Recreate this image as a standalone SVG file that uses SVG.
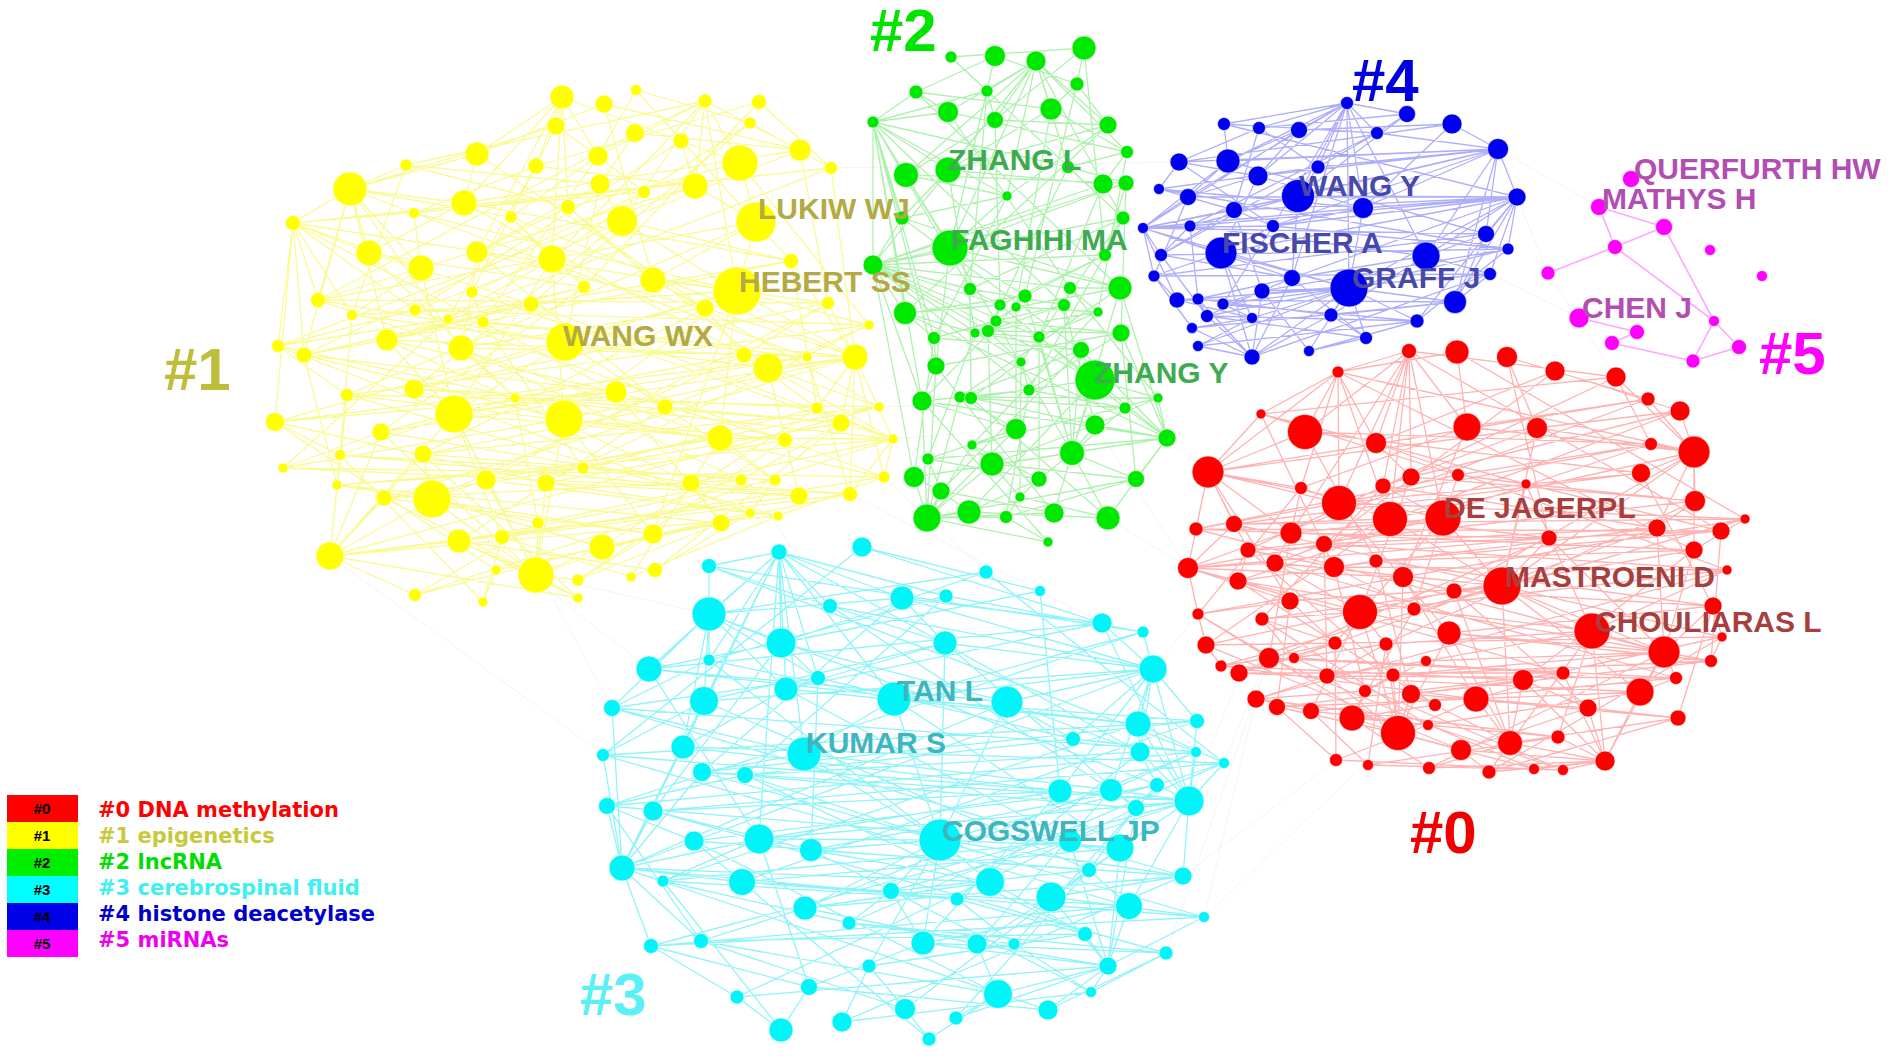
<svg xmlns="http://www.w3.org/2000/svg" width="1902" height="1056" viewBox="0 0 1902 1056">
<style>
.e{fill:none;stroke-width:1.3;stroke-linecap:round}
.ey{stroke:#f2f200;stroke-opacity:.42}
.eg{stroke:#00d400;stroke-opacity:.32}
.eb{stroke:#0000ee;stroke-opacity:.32}
.er{stroke:#ff0000;stroke-opacity:.3}
.ec{stroke:#00e6ee;stroke-opacity:.44}
.em{stroke:#ff00ff;stroke-opacity:.35;stroke-width:1.6}
.ex{stroke:#c8c8c8;stroke-opacity:.25;stroke-width:.8}
.n circle{stroke:#ffffff;stroke-width:.8;stroke-opacity:.7}
.ny circle{fill:#ffff00}
.ng circle{fill:#00e800}
.nb circle{fill:#0000f0}
.nr circle{fill:#ff0000}
.nc circle{fill:#00f4f8}
.nm circle{fill:#ff00ff}
.lbl{font-family:"Liberation Sans",Arial,sans-serif;font-weight:bold;font-size:30px}
.cl{font-family:"Liberation Sans",Arial,sans-serif;font-weight:bold;font-size:60px}
.lg{font-family:"DejaVu Sans",Verdana,sans-serif;font-weight:bold;font-size:21px}
.lb{font-family:"Liberation Sans",Arial,sans-serif;font-weight:bold;font-size:15px;fill:#000;text-anchor:middle}
</style>
<rect width="1902" height="1056" fill="#ffffff"/>
<g id="connectors">
<path class="e ex" d="M330 556L600 752M432 499L649 669M536 575L709 614M454 414L612 708M720 438L830 606M884 477L986 572M850 494L1102 623M1095 425L1188 568M1167 438L1208 472M1153 669L1198 614M1224 763L1290 601M1189 801L1262 619M1204 917L1398 733M1183 876L1336 760M869 325L1143 228M831 168L1179 162M1517 197L1548 273M1490 274L1579 318M1498 149L1599 207M1616 377L1548 273M1108 518L1188 568M893 439L1016 429M879 407L1158 398M1204 917L1256 699M1166 953L1269 658M663 881L759 839"/>
<path class="e ey" d="M562 97L681 141L740 163L568 207L477 252L472 292L483 322L304 355L616 392L275 422L340 455L775 480L750 513L602 547L415 595M636 90L750 123L831 168L414 213L421 268L318 300L828 303L744 355L515 398L381 432L283 468L884 477L778 516L330 556L578 598M604 104L477 154L350 189L511 217L552 259L415 310L869 325L768 368L665 407L841 423L583 468L337 485L721 523L496 570L483 602M705 101L406 165L600 184L622 221L791 261L531 304L387 340L807 357L454 414L720 438L486 480L432 499L538 523L536 575M759 102L536 166L695 186L756 222L653 280L705 308L461 348L855 357L564 419L785 440L546 483L799 496L459 541L655 570M556 126L598 156L644 192L293 223L737 291L352 315L565 342L414 389L817 408L893 439L691 483L850 494L502 537L631 577M635 133L800 150L464 203L369 253L584 287L448 319L278 346L347 395L879 407L423 454L741 480L384 498L653 534L578 580
M562 97L552 259L564 419L653 534M636 90L791 261L817 408L602 547M604 104L653 280L879 407L330 556M705 101L737 291L275 422L496 570M759 102L584 287L381 432L536 575M556 126L472 292L841 423L655 570M635 133L318 300L720 438L631 577M681 141L415 310L785 440L578 580M750 123L531 304L893 439L415 595M477 154L705 308L423 454L578 598M406 165L352 315L340 455L483 602M536 166L448 319L283 468M598 156L483 322L583 468M800 150L828 303L486 480M740 163L869 325L546 483M831 168L387 340L691 483M350 189L461 348L741 480M600 184L565 342L775 480M695 186L278 346L884 477M644 192L304 355L337 485M464 203L744 355L432 499M568 207L768 368L799 496M414 213L807 357L850 494M511 217L855 357L384 498M622 221L414 389L750 513M756 222L347 395L778 516M293 223L616 392L721 523M369 253L515 398L538 523M477 252L665 407L459 541M421 268L454 414L502 537
M562 97L536 166L414 213L737 291L869 325L347 395L720 438L775 480L459 541L578 598M636 90L598 156L511 217L584 287L387 340L616 392L785 440L884 477L502 537L483 602M604 104L800 150L622 221L472 292L461 348L515 398L893 439L337 485L653 534M705 101L740 163L756 222L318 300L565 342L665 407L423 454L432 499L602 547M759 102L831 168L293 223L415 310L278 346L454 414L340 455L799 496L330 556M556 126L350 189L369 253L531 304L304 355L564 419L283 468L850 494L496 570M635 133L600 184L477 252L705 308L744 355L817 408L583 468L384 498L536 575M681 141L695 186L421 268L352 315L768 368L879 407L486 480L750 513L655 570M750 123L644 192L552 259L448 319L807 357L275 422L546 483L778 516L631 577M477 154L464 203L791 261L483 322L855 357L381 432L691 483L721 523L578 580M406 165L568 207L653 280L828 303L414 389L841 423L741 480L538 523L415 595
M477 154L350 189L369 253M350 189L421 268M350 189L464 203M350 189L387 340M350 189L318 300M350 189L304 355M350 189L406 165M350 189L414 213M350 189L293 223L369 253M293 223L318 300M293 223L278 346M293 223L304 355M293 223L275 422M293 223L352 315M293 223L421 268M432 499L330 556L384 498M330 556L381 432M330 556L423 454M330 556L459 541M330 556L454 414M330 556L347 395M330 556L340 455M330 556L415 595M459 541L536 575L602 547M536 575L564 419M536 575L486 480M536 575L546 483M536 575L454 414M536 575L432 499M536 575L578 598M536 575L578 580M536 575L653 534M737 291L855 357L768 368M855 357L841 423M855 357L817 408M855 357L828 303M855 357L705 308M855 357L850 494M855 357L884 477M855 357L831 168M855 357L791 261M740 163L705 101L695 186M705 101L622 221M705 101L598 156M705 101L635 133M705 101L800 150M705 101L737 291M705 101L552 259M477 154L562 97L536 166M562 97L598 156M562 97L464 203M562 97L568 207M562 97L477 252M562 97L552 259M562 97L556 126M850 494L893 439L841 423M893 439L768 368M893 439L720 438M893 439L884 477M893 439L855 357M737 291L622 221M737 291L565 342M737 291L564 419M737 291L756 222M737 291L720 438M737 291L653 534M454 414L565 342M454 414L387 340M454 414L552 259M454 414L616 392M454 414L421 268"/>
<path class="e eg" d="M951 57L987 91L873 122L1068 167L1123 218L970 289L1064 305L988 331L1021 362L971 398L1095 425L992 464L1020 497L1108 518M995 56L1077 84L1108 125L1007 196L950 248L1025 296L905 313L934 338L936 366L922 401L1167 438L914 477L927 518L1048 542M1036 61L948 112L1127 152L1103 184L873 265L1070 288L1098 312L1039 337L1095 380L1158 398L972 445L1039 479L969 512M1084 48L995 120L906 175L1126 183L1105 255L1000 305L996 321L1121 333L1029 390L1125 408L1072 453L1136 479L1006 517M916 92L1051 109L948 170L902 218L1120 288L1016 307L975 333L1081 350L960 397L1016 429L928 459L941 491L1054 513
M951 57L1123 218L1021 362L1020 497M995 56L950 248L936 366L927 518M1036 61L873 265L1095 380L969 512M1084 48L1105 255L1029 390L1006 517M916 92L1120 288L960 397L1054 513M987 91L970 289L971 398L1108 518M1077 84L1025 296L922 401L1048 542M948 112L1070 288L1158 398M995 120L1000 305L1125 408M1051 109L1016 307L1016 429M873 122L1064 305L1095 425M1108 125L905 313L1167 438M1127 152L1098 312L972 445M906 175L996 321L1072 453M948 170L975 333L928 459M1068 167L988 331L992 464M1007 196L934 338L914 477M1103 184L1039 337L1039 479M1126 183L1121 333L1136 479M902 218L1081 350L941 491M1084 48L1077 84
M951 57L1084 48L1077 84L1051 109L1127 152L1068 167L1126 183L950 248L1120 288L1070 288L1064 305L996 321L934 338L1081 350L1095 380L971 398L1125 408L1167 438L928 459L1039 479L1020 497L1006 517L1048 542M995 56L916 92L948 112L873 122L906 175L1007 196L902 218L873 265L970 289L1000 305L905 313L975 333L1039 337L1021 362L1029 390L922 401L1016 429L972 445L992 464L1136 479L927 518L1054 513M1036 61L987 91L995 120L1108 125L948 170L1103 184L1123 218L1105 255L1025 296L1016 307L1098 312L988 331L1121 333L936 366L960 397L1158 398L1095 425L1072 453L914 477L941 491L969 512L1108 518
M906 175L873 122L948 170M873 122L950 248M873 122L905 313M873 122L1007 196M873 122L902 218M873 122L873 265M873 122L936 366M873 122L970 289M873 122L948 112M873 122L916 92M873 122L934 338M873 122L922 401M948 112L1036 61L995 120M1036 61L1051 109M1036 61L1108 125M1036 61L948 170M1036 61L1068 167M1036 61L1007 196M1036 61L1103 184M1036 61L950 248M1036 61L906 175M1036 61L1127 152M1036 61L987 91M950 248L873 265L970 289M873 265L1000 305M873 265L988 331M873 265L1039 337M873 265L1021 362M873 265L1105 255M873 265L1123 218M873 265L1126 183M873 265L1029 390M873 265L905 313M873 265L922 401M873 265L914 477M1095 380L1072 453L1095 425M1072 453L1081 350M1072 453L1039 337M1072 453L1039 479M1072 453L1054 513M1072 453L1108 518M1072 453L1025 296M1072 453L1064 305M1072 453L1125 408M1072 453L1120 288M914 477L927 518L941 491M927 518L969 512M927 518L1006 517M927 518L992 464M927 518L972 445M927 518L960 397M927 518L922 401M927 518L1016 429M1095 380L1167 438L1125 408M1167 438L1095 425M1167 438L1136 479M1167 438L1108 518M1167 438L1121 333M1167 438L1158 398M1167 438L1120 288M1167 438L1081 350"/>
<path class="e eb" d="M1347 103L1299 130L1258 176L1363 208L1273 226L1508 249L1262 291L1207 316L1366 338M1407 114L1377 133L1498 149L1517 197L1486 234L1154 276L1177 300L1252 318L1198 346M1452 124L1179 162L1159 189L1234 210L1161 255L1292 278L1198 299L1331 315L1252 357M1224 124L1228 161L1188 197L1143 228L1221 253L1349 288L1223 304L1417 321L1309 351M1259 128L1318 167L1298 196L1190 226L1426 256L1490 274L1455 302L1192 328
M1347 103L1188 197L1154 276L1192 328M1407 114L1298 196L1292 278L1366 338M1452 124L1363 208L1349 288L1198 346M1224 124L1517 197L1490 274L1252 357M1259 128L1234 210L1262 291L1309 351M1299 130L1143 228L1177 300M1377 133L1190 226L1198 299M1179 162L1273 226L1223 304M1228 161L1486 234L1455 302M1318 167L1161 255L1207 316M1258 176L1221 253L1252 318M1498 149L1426 256L1331 315M1159 189L1508 249L1417 321
M1347 103L1224 124L1377 133L1318 167L1159 189L1363 208L1143 228L1486 234L1426 256L1292 278L1262 291L1223 304L1252 318L1192 328L1252 357M1407 114L1259 128L1179 162L1258 176L1188 197L1517 197L1190 226L1161 255L1508 249L1349 288L1177 300L1455 302L1331 315L1366 338L1309 351M1452 124L1299 130L1228 161L1498 149L1298 196L1234 210L1273 226L1221 253L1154 276L1490 274L1198 299L1207 316L1417 321L1198 346
M1228 161L1347 103L1258 176M1347 103L1298 196M1347 103L1363 208M1347 103L1273 226M1347 103L1318 167M1347 103L1292 278M1347 103L1349 288M1347 103L1426 256M1347 103L1224 124M1347 103L1259 128M1347 103L1299 130M1347 103L1377 133M1347 103L1407 114M1228 161L1498 149L1298 196M1498 149L1363 208M1498 149L1258 176M1498 149L1318 167M1498 149L1426 256M1498 149L1486 234M1498 149L1455 302M1498 149L1273 226M1498 149L1234 210M1498 149L1179 162M1498 149L1452 124M1498 149L1517 197M1298 196L1517 197L1363 208M1517 197L1221 253M1517 197L1426 256M1517 197L1486 234M1517 197L1349 288M1517 197L1292 278M1517 197L1234 210M1517 197L1273 226M1517 197L1455 302M1517 197L1417 321M1517 197L1508 249M1221 253L1143 228L1298 196M1143 228L1234 210M1143 228L1273 226M1143 228L1228 161M1143 228L1188 197M1143 228L1190 226M1143 228L1292 278M1143 228L1349 288M1143 228L1161 255M1143 228L1154 276M1252 357L1349 288L1309 351M1349 288L1366 338M1349 288L1331 315M1349 288L1417 321M1349 288L1262 291M1349 288L1252 318M1349 288L1207 316M1349 288L1177 300M1349 288L1223 304M1349 288L1455 302M1207 316L1252 357L1192 328M1252 357L1198 346M1252 357L1198 299M1252 357L1221 253M1252 357L1262 291M1252 357L1292 278"/>
<path class="e er" d="M1409 351L1305 432L1641 473L1234 524L1188 568L1290 601L1335 643L1239 673L1640 692L1428 725L1563 770M1457 352L1467 427L1301 488L1291 533L1275 563L1360 612L1386 644L1327 676L1256 699L1558 737L1605 761M1507 357L1537 428L1383 486L1657 528L1334 567L1414 609L1664 652L1393 675L1435 705L1510 743M1555 371L1376 443L1526 484L1721 531L1376 561L1713 606L1722 637L1523 680L1588 708L1461 750M1616 377L1651 444L1339 503L1745 519L1403 577L1198 614L1269 658L1563 673L1277 707L1336 760M1338 372L1694 452L1390 519L1549 538L1502 586L1262 619L1294 658L1676 678L1311 711L1368 765M1648 399L1208 472L1443 518L1324 544L1727 570L1592 631L1426 661L1365 691L1352 718L1429 768M1680 411L1411 477L1695 501L1248 550L1238 581L1449 633L1711 661L1411 694L1678 718L1489 772M1261 414L1458 475L1196 529L1694 550L1454 591L1206 645L1221 666L1476 699L1398 733L1534 769
M1409 351L1721 531L1711 661M1457 352L1745 519L1221 666M1507 357L1549 538L1239 673M1555 371L1324 544L1327 676M1616 377L1248 550L1393 675M1338 372L1694 550L1523 680M1648 399L1188 568L1563 673M1680 411L1275 563L1676 678M1261 414L1334 567L1365 691M1305 432L1376 561L1411 694M1467 427L1403 577L1476 699M1537 428L1502 586L1640 692M1376 443L1727 570L1256 699M1651 444L1238 581L1435 705M1694 452L1454 591L1588 708M1208 472L1290 601L1277 707M1411 477L1360 612L1311 711M1458 475L1414 609L1352 718M1641 473L1713 606L1678 718M1301 488L1198 614L1398 733M1383 486L1262 619L1428 725M1526 484L1592 631L1558 737M1339 503L1449 633L1510 743M1390 519L1206 645L1461 750M1443 518L1335 643L1336 760M1695 501L1386 644L1368 765M1196 529L1664 652L1429 768M1234 524L1722 637L1489 772M1291 533L1269 658L1534 769M1657 528L1294 658L1563 770
M1409 351L1616 377L1261 414L1376 443L1411 477L1383 486L1443 518L1291 533L1549 538L1188 568L1403 577L1454 591L1713 606L1449 633L1664 652L1426 661L1327 676L1676 678L1640 692L1277 707L1398 733L1461 750L1489 772M1457 352L1338 372L1305 432L1651 444L1458 475L1526 484L1695 501L1657 528L1324 544L1275 563L1502 586L1290 601L1198 614L1206 645L1722 637L1711 661L1393 675L1365 691L1256 699L1311 711L1428 725L1336 760L1534 769M1507 357L1648 399L1467 427L1694 452L1641 473L1339 503L1196 529L1721 531L1248 550L1334 567L1727 570L1360 612L1262 619L1335 643L1269 658L1221 666L1523 680L1411 694L1435 705L1352 718L1558 737L1368 765L1563 770M1555 371L1680 411L1537 428L1208 472L1301 488L1390 519L1234 524L1745 519L1694 550L1376 561L1238 581L1414 609L1592 631L1386 644L1294 658L1239 673L1563 673L1476 699L1588 708L1678 718L1510 743L1429 768L1605 761
M1305 432L1409 351L1376 443M1409 351L1411 477M1409 351L1339 503M1409 351L1390 519M1409 351L1443 518M1409 351L1467 427M1409 351L1383 486M1409 351L1291 533M1409 351L1338 372M1510 743L1605 761L1558 737M1605 761L1588 708M1605 761L1640 692M1605 761L1523 680M1605 761L1592 631M1605 761L1664 652M1605 761L1461 750M1605 761L1563 673M1605 761L1489 772M1605 761L1534 769M1605 761L1563 770M1352 718L1398 733L1411 694M1398 733L1393 675M1398 733L1386 644M1398 733L1360 612M1398 733L1449 633M1398 733L1403 577M1398 733L1476 699M1398 733L1461 750M1398 733L1327 676M1261 414L1208 472L1305 432M1208 472L1301 488M1208 472L1234 524M1208 472L1291 533M1208 472L1196 529M1208 472L1188 568M1208 472L1248 550M1208 472L1339 503M1537 428L1694 452L1641 473M1694 452L1695 501M1694 452L1657 528M1694 452L1694 550M1694 452L1651 444M1694 452L1680 411M1694 452L1648 399M1694 452L1616 377M1694 452L1502 586M1476 699L1510 743L1592 631M1510 743L1502 586M1510 743L1523 680M1510 743L1449 633M1510 743L1454 591M1510 743L1489 772M1510 743L1429 768M1592 631L1664 652L1713 606M1664 652L1694 550M1664 652L1711 661M1664 652L1676 678M1664 652L1640 692M1664 652L1502 586M1664 652L1549 538M1664 652L1657 528M1305 432L1338 372L1376 443M1338 372L1339 503M1338 372L1208 472M1338 372L1261 414M1338 372L1390 519M1338 372L1457 352M1338 372L1301 488M1275 563L1188 568L1238 581M1188 568L1198 614M1188 568L1290 601M1188 568L1324 544M1443 518L1502 586L1390 519M1502 586L1549 538M1502 586L1454 591M1502 586L1414 609M1502 586L1592 631M1502 586L1526 484"/>
<path class="e ec" d="M779 552L709 614L818 678L1073 739L745 775L940 840L1183 876L805 908L701 941L905 1009M862 547L1102 623L786 689L683 747L1060 791L759 839L663 881L849 923L1166 953L1048 1010M709 566L1143 632L894 699L804 754L1111 790L694 841L742 882L1204 917L1108 966L956 1018M986 572L781 643L1007 702L1140 752L1157 785L811 850L990 882L1085 934L869 966L842 1022M902 598L945 643L704 701L603 755L1189 801L1070 841L891 891L923 943L809 987L781 1030M946 596L709 660L612 708L1196 752L607 806L1120 848L1051 897L977 944L998 994L929 1039M1040 591L649 669L1138 724L1224 763L653 811L622 868L957 899L1014 944L1091 992M830 606L1153 669L1197 721L702 772L1136 808L1089 870L1129 906L651 946L737 997
M779 552L1140 752L957 899M862 547L603 755L1129 906M709 566L1196 752L805 908M986 572L1224 763L849 923M902 598L702 772L1204 917M946 596L745 775L1085 934M1040 591L1060 791L923 943M830 606L1111 790L977 944M709 614L1157 785L1014 944M1102 623L1189 801L651 946M1143 632L607 806L701 941M781 643L653 811L1166 953M945 643L1136 808L1108 966M709 660L940 840L869 966M649 669L759 839L809 987M1153 669L694 841L998 994M818 678L811 850L1091 992M786 689L1070 841L737 997M894 699L1120 848L905 1009M1007 702L622 868L1048 1010M704 701L1089 870L956 1018M612 708L1183 876L842 1022M1138 724L663 881L781 1030M1197 721L742 882L929 1039
M779 552L946 596L1143 632L1153 669L704 701L683 747L1224 763L1157 785L940 840L1120 848L742 882L1129 906L923 943L1166 953L1091 992L842 1022M862 547L1040 591L781 643L818 678L612 708L804 754L702 772L1189 801L759 839L622 868L990 882L805 908L977 944L1108 966L737 997L781 1030M709 566L830 606L945 643L786 689L1138 724L1140 752L745 775L607 806L694 841L1089 870L891 891L849 923L1014 944L869 966L905 1009L929 1039M986 572L709 614L709 660L894 699L1197 721L603 755L1060 791L653 811L811 850L1183 876L1051 897L1204 917L651 946L809 987L1048 1010M902 598L1102 623L649 669L1007 702L1073 739L1196 752L1111 790L1136 808L1070 841L663 881L957 899L1085 934L701 941L998 994L956 1018
M709 614L779 552L781 643M779 552L786 689M779 552L704 701M779 552L804 754M779 552L894 699M779 552L902 598M779 552L830 606M779 552L709 566M779 552L649 669M779 552L709 660M779 552L818 678M779 552L683 747M779 552L759 839M1102 623L1153 669L945 643M1153 669L894 699M1153 669L1007 702M1153 669L1138 724M1153 669L1073 739M1153 669L1140 752M1153 669L1060 791M1153 669L1111 790M1153 669L1189 801M1153 669L902 598M1153 669L1143 632M1153 669L1197 721M612 708L622 868L683 747M622 868L702 772M622 868L607 806M622 868L653 811M622 868L694 841M622 868L663 881M622 868L742 882M622 868L651 946M622 868L701 941M622 868L759 839M622 868L603 755M622 868L704 701M1140 752L1189 801L1157 785M1189 801L1136 808M1189 801L1120 848M1189 801L1183 876M1189 801L1129 906M1189 801L1196 752M1189 801L1224 763M1189 801L1197 721M1189 801L1111 790M1189 801L1138 724M1051 897L1108 966L1129 906M1108 966L1085 934M1108 966L977 944M1108 966L998 994M1108 966L1048 1010M1108 966L1091 992M1108 966L1070 841M1108 966L1120 848M1108 966L923 943M894 699L940 840L804 754M940 840L811 850M940 840L891 891M940 840L805 908M940 840L990 882M940 840L923 943M940 840L1007 702M940 840L945 643M940 840L759 839M709 566L709 614L781 643M709 614L649 669M709 614L704 701M709 614L709 660M709 614L786 689M709 614L612 708M709 614L683 747M709 614L902 598"/>
<path class="e em" d="M1599 207L1664 227M1599 207L1615 247L1664 227M1615 247L1548 273M1615 247L1714 321L1664 227M1714 321L1739 347L1693 361L1714 321M1693 361L1612 343L1637 332L1579 318"/>
</g>
<g id="cluster1-nodes" class="n ny">
<circle id="y1" cx="562" cy="97" r="12"/><circle id="y2" cx="636" cy="90" r="5.5"/><circle id="y3" cx="604" cy="104" r="9"/><circle id="y4" cx="705" cy="101" r="7"/><circle id="y5" cx="759" cy="102" r="7.5"/><circle id="y6" cx="556" cy="126" r="9"/><circle id="y7" cx="635" cy="133" r="9.5"/><circle id="y8" cx="681" cy="141" r="8"/><circle id="y9" cx="750" cy="123" r="6"/><circle id="y10" cx="477" cy="154" r="12"/><circle id="y11" cx="406" cy="165" r="6"/><circle id="y12" cx="536" cy="166" r="8"/><circle id="y13" cx="598" cy="156" r="10"/><circle id="y14" cx="800" cy="150" r="11"/><circle id="y15" cx="740" cy="163" r="18"/><circle id="y16" cx="831" cy="168" r="6.5"/><circle id="y17" cx="350" cy="189" r="17"/><circle id="y18" cx="600" cy="184" r="10"/><circle id="y19" cx="695" cy="186" r="13"/><circle id="y20" cx="644" cy="192" r="6.5"/><circle id="y21" cx="464" cy="203" r="13"/><circle id="y22" cx="568" cy="207" r="7.5"/><circle id="y23" cx="414" cy="213" r="5.5"/><circle id="y24" cx="511" cy="217" r="6"/><circle id="y25" cx="622" cy="221" r="15.5"/><circle id="y26" cx="756" cy="222" r="20"/><circle id="y27" cx="293" cy="223" r="7.5"/><circle id="y28" cx="369" cy="253" r="13"/><circle id="y29" cx="477" cy="252" r="11"/><circle id="y30" cx="421" cy="268" r="13"/><circle id="y31" cx="552" cy="259" r="14"/><circle id="y32" cx="791" cy="261" r="7.5"/><circle id="y33" cx="653" cy="280" r="13"/><circle id="y34" cx="737" cy="291" r="24"/><circle id="y35" cx="584" cy="287" r="6.5"/><circle id="y36" cx="472" cy="292" r="6"/><circle id="y37" cx="318" cy="300" r="7.5"/><circle id="y38" cx="415" cy="310" r="6"/><circle id="y39" cx="531" cy="304" r="8"/><circle id="y40" cx="705" cy="308" r="9"/><circle id="y41" cx="352" cy="315" r="5.5"/><circle id="y42" cx="448" cy="319" r="5"/><circle id="y43" cx="483" cy="322" r="6"/><circle id="y44" cx="828" cy="303" r="6.5"/><circle id="y45" cx="869" cy="325" r="5"/><circle id="y46" cx="387" cy="340" r="11"/><circle id="y47" cx="461" cy="348" r="13"/><circle id="y48" cx="565" cy="342" r="19"/><circle id="y49" cx="278" cy="346" r="6.5"/><circle id="y50" cx="304" cy="355" r="8"/><circle id="y51" cx="744" cy="355" r="8"/><circle id="y52" cx="768" cy="368" r="15"/><circle id="y53" cx="807" cy="357" r="5"/><circle id="y54" cx="855" cy="357" r="13"/><circle id="y55" cx="414" cy="389" r="10"/><circle id="y56" cx="347" cy="395" r="6.5"/><circle id="y57" cx="616" cy="392" r="11"/><circle id="y58" cx="515" cy="398" r="5"/><circle id="y59" cx="665" cy="407" r="8"/><circle id="y60" cx="454" cy="414" r="19"/><circle id="y61" cx="564" cy="419" r="19"/><circle id="y62" cx="817" cy="408" r="6"/><circle id="y63" cx="879" cy="407" r="5"/><circle id="y64" cx="275" cy="422" r="9.5"/><circle id="y65" cx="381" cy="432" r="9"/><circle id="y66" cx="841" cy="423" r="9"/><circle id="y67" cx="720" cy="438" r="13"/><circle id="y68" cx="785" cy="440" r="7.5"/><circle id="y69" cx="893" cy="439" r="5"/><circle id="y70" cx="423" cy="454" r="9"/><circle id="y71" cx="340" cy="455" r="5.5"/><circle id="y72" cx="283" cy="468" r="5"/><circle id="y73" cx="583" cy="468" r="6"/><circle id="y74" cx="486" cy="480" r="10"/><circle id="y75" cx="546" cy="483" r="9"/><circle id="y76" cx="691" cy="483" r="9"/><circle id="y77" cx="741" cy="480" r="6"/><circle id="y78" cx="775" cy="480" r="6"/><circle id="y79" cx="884" cy="477" r="6"/><circle id="y80" cx="337" cy="485" r="5"/><circle id="y81" cx="432" cy="499" r="19"/><circle id="y82" cx="799" cy="496" r="9"/><circle id="y83" cx="850" cy="494" r="7.5"/><circle id="y84" cx="384" cy="498" r="8"/><circle id="y85" cx="750" cy="513" r="5"/><circle id="y86" cx="778" cy="516" r="5"/><circle id="y87" cx="721" cy="523" r="9"/><circle id="y88" cx="538" cy="523" r="6"/><circle id="y89" cx="459" cy="541" r="12"/><circle id="y90" cx="502" cy="537" r="7.5"/><circle id="y91" cx="653" cy="534" r="10"/><circle id="y92" cx="602" cy="547" r="13"/><circle id="y93" cx="330" cy="556" r="14"/><circle id="y94" cx="496" cy="570" r="5"/><circle id="y95" cx="536" cy="575" r="18"/><circle id="y96" cx="655" cy="570" r="7.5"/><circle id="y97" cx="631" cy="577" r="5"/><circle id="y98" cx="578" cy="580" r="6"/><circle id="y99" cx="415" cy="595" r="6.5"/><circle id="y100" cx="578" cy="598" r="5"/><circle id="y101" cx="483" cy="602" r="5"/>
</g>
<g id="cluster2-nodes" class="n ng">
<circle id="g1" cx="951" cy="57" r="6"/><circle id="g2" cx="995" cy="56" r="10.5"/><circle id="g3" cx="1036" cy="61" r="10"/><circle id="g4" cx="1084" cy="48" r="12"/><circle id="g5" cx="916" cy="92" r="7"/><circle id="g6" cx="987" cy="91" r="6"/><circle id="g7" cx="1077" cy="84" r="7"/><circle id="g8" cx="948" cy="112" r="10.5"/><circle id="g9" cx="995" cy="120" r="8.5"/><circle id="g10" cx="1051" cy="109" r="11"/><circle id="g11" cx="873" cy="122" r="6"/><circle id="g12" cx="1108" cy="125" r="9"/><circle id="g13" cx="1127" cy="152" r="6.5"/><circle id="g14" cx="906" cy="175" r="12.5"/><circle id="g15" cx="948" cy="170" r="13"/><circle id="g16" cx="1068" cy="167" r="6.5"/><circle id="g17" cx="1007" cy="196" r="5"/><circle id="g18" cx="1103" cy="184" r="10"/><circle id="g19" cx="1126" cy="183" r="8"/><circle id="g20" cx="902" cy="218" r="7"/><circle id="g21" cx="1123" cy="218" r="7"/><circle id="g22" cx="950" cy="248" r="18"/><circle id="g23" cx="873" cy="265" r="10"/><circle id="g24" cx="1105" cy="255" r="6.5"/><circle id="g25" cx="1120" cy="288" r="12"/><circle id="g26" cx="970" cy="289" r="6.5"/><circle id="g27" cx="1025" cy="296" r="7"/><circle id="g28" cx="1070" cy="288" r="6.5"/><circle id="g29" cx="1000" cy="305" r="6"/><circle id="g30" cx="1016" cy="307" r="5"/><circle id="g31" cx="1064" cy="305" r="6.5"/><circle id="g32" cx="905" cy="313" r="11.5"/><circle id="g33" cx="1098" cy="312" r="5"/><circle id="g34" cx="996" cy="321" r="6"/><circle id="g35" cx="975" cy="333" r="5"/><circle id="g36" cx="988" cy="331" r="6.5"/><circle id="g37" cx="934" cy="338" r="6.5"/><circle id="g38" cx="1039" cy="337" r="6"/><circle id="g39" cx="1121" cy="333" r="9"/><circle id="g40" cx="1081" cy="350" r="8.5"/><circle id="g41" cx="1021" cy="362" r="5"/><circle id="g42" cx="936" cy="366" r="9"/><circle id="g43" cx="1095" cy="380" r="20"/><circle id="g44" cx="1029" cy="390" r="6"/><circle id="g45" cx="960" cy="397" r="6"/><circle id="g46" cx="971" cy="398" r="6.5"/><circle id="g47" cx="922" cy="401" r="10"/><circle id="g48" cx="1158" cy="398" r="5"/><circle id="g49" cx="1125" cy="408" r="6"/><circle id="g50" cx="1016" cy="429" r="10.5"/><circle id="g51" cx="1095" cy="425" r="10"/><circle id="g52" cx="1167" cy="438" r="9"/><circle id="g53" cx="972" cy="445" r="5"/><circle id="g54" cx="1072" cy="453" r="12.5"/><circle id="g55" cx="928" cy="459" r="6"/><circle id="g56" cx="992" cy="464" r="12"/><circle id="g57" cx="914" cy="477" r="10.5"/><circle id="g58" cx="1039" cy="479" r="8"/><circle id="g59" cx="1136" cy="479" r="8.5"/><circle id="g60" cx="941" cy="491" r="9"/><circle id="g61" cx="1020" cy="497" r="5"/><circle id="g62" cx="927" cy="518" r="14"/><circle id="g63" cx="969" cy="512" r="12"/><circle id="g64" cx="1006" cy="517" r="6.5"/><circle id="g65" cx="1054" cy="513" r="10"/><circle id="g66" cx="1108" cy="518" r="12"/><circle id="g67" cx="1048" cy="542" r="5"/>
</g>
<g id="cluster4-nodes" class="n nb">
<circle id="b1" cx="1347" cy="103" r="6.5"/><circle id="b2" cx="1407" cy="114" r="8.5"/><circle id="b3" cx="1452" cy="124" r="10"/><circle id="b4" cx="1224" cy="124" r="6.5"/><circle id="b5" cx="1259" cy="128" r="6.5"/><circle id="b6" cx="1299" cy="130" r="8.5"/><circle id="b7" cx="1377" cy="133" r="6.5"/><circle id="b8" cx="1179" cy="162" r="9"/><circle id="b9" cx="1228" cy="161" r="12"/><circle id="b10" cx="1318" cy="167" r="7"/><circle id="b11" cx="1258" cy="176" r="10"/><circle id="b12" cx="1498" cy="149" r="10.5"/><circle id="b13" cx="1159" cy="189" r="5.5"/><circle id="b14" cx="1188" cy="197" r="8.5"/><circle id="b15" cx="1298" cy="196" r="16.5"/><circle id="b16" cx="1363" cy="208" r="10.5"/><circle id="b17" cx="1517" cy="197" r="9"/><circle id="b18" cx="1234" cy="210" r="8.5"/><circle id="b19" cx="1143" cy="228" r="5.5"/><circle id="b20" cx="1190" cy="226" r="6"/><circle id="b21" cx="1273" cy="226" r="6.5"/><circle id="b22" cx="1486" cy="234" r="8.5"/><circle id="b23" cx="1161" cy="255" r="6.5"/><circle id="b24" cx="1221" cy="253" r="16"/><circle id="b25" cx="1426" cy="256" r="14"/><circle id="b26" cx="1508" cy="249" r="6"/><circle id="b27" cx="1154" cy="276" r="6"/><circle id="b28" cx="1292" cy="278" r="8.5"/><circle id="b29" cx="1349" cy="288" r="19"/><circle id="b30" cx="1490" cy="274" r="6.5"/><circle id="b31" cx="1262" cy="291" r="8"/><circle id="b32" cx="1177" cy="300" r="8"/><circle id="b33" cx="1198" cy="299" r="6"/><circle id="b34" cx="1223" cy="304" r="6"/><circle id="b35" cx="1455" cy="302" r="11.5"/><circle id="b36" cx="1207" cy="316" r="6.5"/><circle id="b37" cx="1252" cy="318" r="5.5"/><circle id="b38" cx="1331" cy="315" r="7"/><circle id="b39" cx="1417" cy="321" r="7"/><circle id="b40" cx="1192" cy="328" r="5.5"/><circle id="b41" cx="1366" cy="338" r="6.5"/><circle id="b42" cx="1198" cy="346" r="5.5"/><circle id="b43" cx="1252" cy="357" r="8"/><circle id="b44" cx="1309" cy="351" r="5.5"/>
</g>
<g id="cluster0-nodes" class="n nr">
<circle id="r1" cx="1409" cy="351" r="7.5"/><circle id="r2" cx="1457" cy="352" r="12"/><circle id="r3" cx="1507" cy="357" r="10.5"/><circle id="r4" cx="1555" cy="371" r="10"/><circle id="r5" cx="1616" cy="377" r="10"/><circle id="r6" cx="1338" cy="372" r="6"/><circle id="r7" cx="1648" cy="399" r="7"/><circle id="r8" cx="1680" cy="411" r="10"/><circle id="r9" cx="1261" cy="414" r="5"/><circle id="r10" cx="1305" cy="432" r="17.5"/><circle id="r11" cx="1467" cy="427" r="14"/><circle id="r12" cx="1537" cy="428" r="10.5"/><circle id="r13" cx="1376" cy="443" r="10.5"/><circle id="r14" cx="1651" cy="444" r="6.5"/><circle id="r15" cx="1694" cy="452" r="16"/><circle id="r16" cx="1208" cy="472" r="16"/><circle id="r17" cx="1411" cy="477" r="9"/><circle id="r18" cx="1458" cy="475" r="6.5"/><circle id="r19" cx="1641" cy="473" r="9.5"/><circle id="r20" cx="1301" cy="488" r="6.5"/><circle id="r21" cx="1383" cy="486" r="8"/><circle id="r22" cx="1526" cy="484" r="5"/><circle id="r23" cx="1339" cy="503" r="17.5"/><circle id="r24" cx="1390" cy="519" r="17.5"/><circle id="r25" cx="1443" cy="518" r="18"/><circle id="r26" cx="1695" cy="501" r="10.5"/><circle id="r27" cx="1196" cy="529" r="7"/><circle id="r28" cx="1234" cy="524" r="8.5"/><circle id="r29" cx="1291" cy="533" r="11"/><circle id="r30" cx="1657" cy="528" r="9"/><circle id="r31" cx="1721" cy="531" r="9"/><circle id="r32" cx="1745" cy="519" r="5"/><circle id="r33" cx="1549" cy="538" r="8"/><circle id="r34" cx="1324" cy="544" r="8.5"/><circle id="r35" cx="1248" cy="550" r="8"/><circle id="r36" cx="1694" cy="550" r="9"/><circle id="r37" cx="1188" cy="568" r="10.5"/><circle id="r38" cx="1275" cy="563" r="9"/><circle id="r39" cx="1334" cy="567" r="10.5"/><circle id="r40" cx="1376" cy="561" r="7"/><circle id="r41" cx="1403" cy="577" r="10.5"/><circle id="r42" cx="1502" cy="586" r="19"/><circle id="r43" cx="1727" cy="570" r="5"/><circle id="r44" cx="1238" cy="581" r="9"/><circle id="r45" cx="1454" cy="591" r="8"/><circle id="r46" cx="1290" cy="601" r="9"/><circle id="r47" cx="1360" cy="612" r="17.5"/><circle id="r48" cx="1414" cy="609" r="7"/><circle id="r49" cx="1713" cy="606" r="9"/><circle id="r50" cx="1198" cy="614" r="6"/><circle id="r51" cx="1262" cy="619" r="7"/><circle id="r52" cx="1592" cy="631" r="18"/><circle id="r53" cx="1449" cy="633" r="12"/><circle id="r54" cx="1206" cy="645" r="9"/><circle id="r55" cx="1335" cy="643" r="7"/><circle id="r56" cx="1386" cy="644" r="7"/><circle id="r57" cx="1664" cy="652" r="16"/><circle id="r58" cx="1722" cy="637" r="5"/><circle id="r59" cx="1269" cy="658" r="10.5"/><circle id="r60" cx="1294" cy="658" r="5.5"/><circle id="r61" cx="1426" cy="661" r="5.5"/><circle id="r62" cx="1711" cy="661" r="6.5"/><circle id="r63" cx="1221" cy="666" r="6"/><circle id="r64" cx="1239" cy="673" r="9"/><circle id="r65" cx="1327" cy="676" r="8"/><circle id="r66" cx="1393" cy="675" r="7"/><circle id="r67" cx="1523" cy="680" r="10.5"/><circle id="r68" cx="1563" cy="673" r="7"/><circle id="r69" cx="1676" cy="678" r="6.5"/><circle id="r70" cx="1365" cy="691" r="6.5"/><circle id="r71" cx="1411" cy="694" r="9.5"/><circle id="r72" cx="1476" cy="699" r="13"/><circle id="r73" cx="1640" cy="692" r="14"/><circle id="r74" cx="1256" cy="699" r="9"/><circle id="r75" cx="1435" cy="705" r="6.5"/><circle id="r76" cx="1588" cy="708" r="9"/><circle id="r77" cx="1277" cy="707" r="8.5"/><circle id="r78" cx="1311" cy="711" r="8.5"/><circle id="r79" cx="1352" cy="718" r="13"/><circle id="r80" cx="1678" cy="718" r="8"/><circle id="r81" cx="1398" cy="733" r="17.5"/><circle id="r82" cx="1428" cy="725" r="5.5"/><circle id="r83" cx="1558" cy="737" r="7"/><circle id="r84" cx="1510" cy="743" r="12.5"/><circle id="r85" cx="1461" cy="750" r="10.5"/><circle id="r86" cx="1336" cy="760" r="6.5"/><circle id="r87" cx="1368" cy="765" r="5.5"/><circle id="r88" cx="1429" cy="768" r="6.5"/><circle id="r89" cx="1489" cy="772" r="7"/><circle id="r90" cx="1534" cy="769" r="5.5"/><circle id="r91" cx="1563" cy="770" r="5.5"/><circle id="r92" cx="1605" cy="761" r="10"/>
</g>
<g id="cluster3-nodes" class="n nc">
<circle id="c1" cx="779" cy="552" r="8"/><circle id="c2" cx="862" cy="547" r="10"/><circle id="c3" cx="709" cy="566" r="7.5"/><circle id="c4" cx="986" cy="572" r="7"/><circle id="c5" cx="902" cy="598" r="12"/><circle id="c6" cx="946" cy="596" r="7"/><circle id="c7" cx="1040" cy="591" r="5.5"/><circle id="c8" cx="830" cy="606" r="7.5"/><circle id="c9" cx="709" cy="614" r="17"/><circle id="c10" cx="1102" cy="623" r="10"/><circle id="c11" cx="1143" cy="632" r="6"/><circle id="c12" cx="781" cy="643" r="15"/><circle id="c13" cx="945" cy="643" r="12"/><circle id="c14" cx="709" cy="660" r="6"/><circle id="c15" cx="649" cy="669" r="13"/><circle id="c16" cx="1153" cy="669" r="14"/><circle id="c17" cx="818" cy="678" r="7.5"/><circle id="c18" cx="786" cy="689" r="12"/><circle id="c19" cx="894" cy="699" r="17"/><circle id="c20" cx="1007" cy="702" r="16"/><circle id="c21" cx="704" cy="701" r="14.5"/><circle id="c22" cx="612" cy="708" r="8.5"/><circle id="c23" cx="1138" cy="724" r="13"/><circle id="c24" cx="1197" cy="721" r="7.5"/><circle id="c25" cx="1073" cy="739" r="7.5"/><circle id="c26" cx="683" cy="747" r="12"/><circle id="c27" cx="804" cy="754" r="17"/><circle id="c28" cx="1140" cy="752" r="10"/><circle id="c29" cx="603" cy="755" r="6.5"/><circle id="c30" cx="1196" cy="752" r="5.5"/><circle id="c31" cx="1224" cy="763" r="5.5"/><circle id="c32" cx="702" cy="772" r="9.5"/><circle id="c33" cx="745" cy="775" r="8.5"/><circle id="c34" cx="1060" cy="791" r="12"/><circle id="c35" cx="1111" cy="790" r="11.5"/><circle id="c36" cx="1157" cy="785" r="7.5"/><circle id="c37" cx="1189" cy="801" r="15"/><circle id="c38" cx="607" cy="806" r="8.5"/><circle id="c39" cx="653" cy="811" r="10"/><circle id="c40" cx="1136" cy="808" r="8.5"/><circle id="c41" cx="940" cy="840" r="21"/><circle id="c42" cx="759" cy="839" r="15"/><circle id="c43" cx="694" cy="841" r="10"/><circle id="c44" cx="811" cy="850" r="11.5"/><circle id="c45" cx="1070" cy="841" r="11.5"/><circle id="c46" cx="1120" cy="848" r="14"/><circle id="c47" cx="622" cy="868" r="13"/><circle id="c48" cx="1089" cy="870" r="7.5"/><circle id="c49" cx="1183" cy="876" r="9"/><circle id="c50" cx="663" cy="881" r="6"/><circle id="c51" cx="742" cy="882" r="13.5"/><circle id="c52" cx="990" cy="882" r="14.5"/><circle id="c53" cx="891" cy="891" r="8.5"/><circle id="c54" cx="1051" cy="897" r="15"/><circle id="c55" cx="957" cy="899" r="7"/><circle id="c56" cx="1129" cy="906" r="13.5"/><circle id="c57" cx="805" cy="908" r="12"/><circle id="c58" cx="849" cy="923" r="7"/><circle id="c59" cx="1204" cy="917" r="5.5"/><circle id="c60" cx="1085" cy="934" r="7.5"/><circle id="c61" cx="923" cy="943" r="12"/><circle id="c62" cx="977" cy="944" r="10"/><circle id="c63" cx="1014" cy="944" r="6"/><circle id="c64" cx="651" cy="946" r="7.5"/><circle id="c65" cx="701" cy="941" r="7.5"/><circle id="c66" cx="1166" cy="953" r="7"/><circle id="c67" cx="1108" cy="966" r="9"/><circle id="c68" cx="869" cy="966" r="7"/><circle id="c69" cx="809" cy="987" r="8.5"/><circle id="c70" cx="998" cy="994" r="14.5"/><circle id="c71" cx="1091" cy="992" r="5.5"/><circle id="c72" cx="737" cy="997" r="7"/><circle id="c73" cx="905" cy="1009" r="10.5"/><circle id="c74" cx="1048" cy="1010" r="10"/><circle id="c75" cx="956" cy="1018" r="7"/><circle id="c76" cx="842" cy="1022" r="10"/><circle id="c77" cx="781" cy="1030" r="12"/><circle id="c78" cx="929" cy="1039" r="7"/>
</g>
<g id="cluster5-nodes" class="n nm">
<circle id="m1" cx="1631" cy="179" r="8.5"/><circle id="m2" cx="1599" cy="207" r="8.5"/><circle id="m3" cx="1664" cy="227" r="8.5"/><circle id="m4" cx="1615" cy="247" r="7.5"/><circle id="m5" cx="1710" cy="250" r="5.5"/><circle id="m6" cx="1548" cy="273" r="7"/><circle id="m7" cx="1762" cy="276" r="5.5"/><circle id="m8" cx="1579" cy="318" r="10"/><circle id="m9" cx="1714" cy="321" r="5.5"/><circle id="m10" cx="1637" cy="332" r="7.5"/><circle id="m11" cx="1612" cy="343" r="7.5"/><circle id="m12" cx="1739" cy="347" r="7.5"/><circle id="m13" cx="1693" cy="361" r="7"/>
</g>
<g id="node-labels" class="lbl">
<text x="758" y="219" fill="#b3aa45">LUKIW WJ</text>
<text x="739" y="292" fill="#b3aa45">HEBERT SS</text>
<text x="563" y="346" fill="#b3aa45">WANG WX</text>
<text x="948" y="170" fill="#3eab50">ZHANG L</text>
<text x="951" y="250" fill="#3eab50">FAGHIHI MA</text>
<text x="1094" y="383" fill="#3eab50">ZHANG Y</text>
<text x="1299" y="196" fill="#4848aa">WANG Y</text>
<text x="1222" y="253" fill="#4848aa">FISCHER A</text>
<text x="1352" y="288" fill="#4848aa">GRAFF J</text>
<text x="1634" y="179" fill="#b24db2">QUERFURTH HW</text>
<text x="1602" y="209" fill="#b24db2">MATHYS H</text>
<text x="1582" y="318" fill="#b24db2">CHEN J</text>
<text x="1444" y="518" fill="#a83f3f">DE JAGERPL</text>
<text x="1505" y="587" fill="#a83f3f">MASTROENI D</text>
<text x="1595" y="632" fill="#a83f3f">CHOULIARAS L</text>
<text x="897" y="701" fill="#3fb5bf">TAN L</text>
<text x="806" y="753" fill="#3fb5bf">KUMAR S</text>
<text x="942" y="841" fill="#3fb5bf">COGSWELL JP</text>
</g>
<g id="cluster-labels" class="cl">
<text x="1410" y="853" fill="#f00000">#0</text>
<text x="164" y="390" fill="#bebe3c">#1</text>
<text x="870" y="51" fill="#00e400">#2</text>
<text x="580" y="1015" fill="#5af0f5">#3</text>
<text x="1352" y="101" fill="#0000dd">#4</text>
<text x="1759" y="374" fill="#ff00ff">#5</text>
</g>
<g id="legend">
<rect x="7" y="795" width="71" height="27" fill="#ff0000"/>
<rect x="7" y="822" width="71" height="27" fill="#ffff00"/>
<rect x="7" y="849" width="71" height="27" fill="#00ee00"/>
<rect x="7" y="876" width="71" height="27" fill="#00ffff"/>
<rect x="7" y="903" width="71" height="27" fill="#0000e6"/>
<rect x="7" y="930" width="71" height="27" fill="#ff00ff"/>
<text class="lb" x="42" y="814">#0</text>
<text class="lb" x="42" y="841">#1</text>
<text class="lb" x="42" y="868">#2</text>
<text class="lb" x="42" y="895">#3</text>
<text class="lb" x="42" y="922">#4</text>
<text class="lb" x="42" y="949">#5</text>
<text class="lg" x="98" y="817" fill="#ff0000">#0 DNA methylation</text>
<text class="lg" x="98" y="843" fill="#c8c83c">#1 epigenetics</text>
<text class="lg" x="98" y="869" fill="#00dd00">#2 lncRNA</text>
<text class="lg" x="98" y="895" fill="#40f0f0">#3 cerebrospinal fluid</text>
<text class="lg" x="98" y="921" fill="#0000cc">#4 histone deacetylase</text>
<text class="lg" x="98" y="947" fill="#ee00ee">#5 miRNAs</text>
</g>
</svg>
